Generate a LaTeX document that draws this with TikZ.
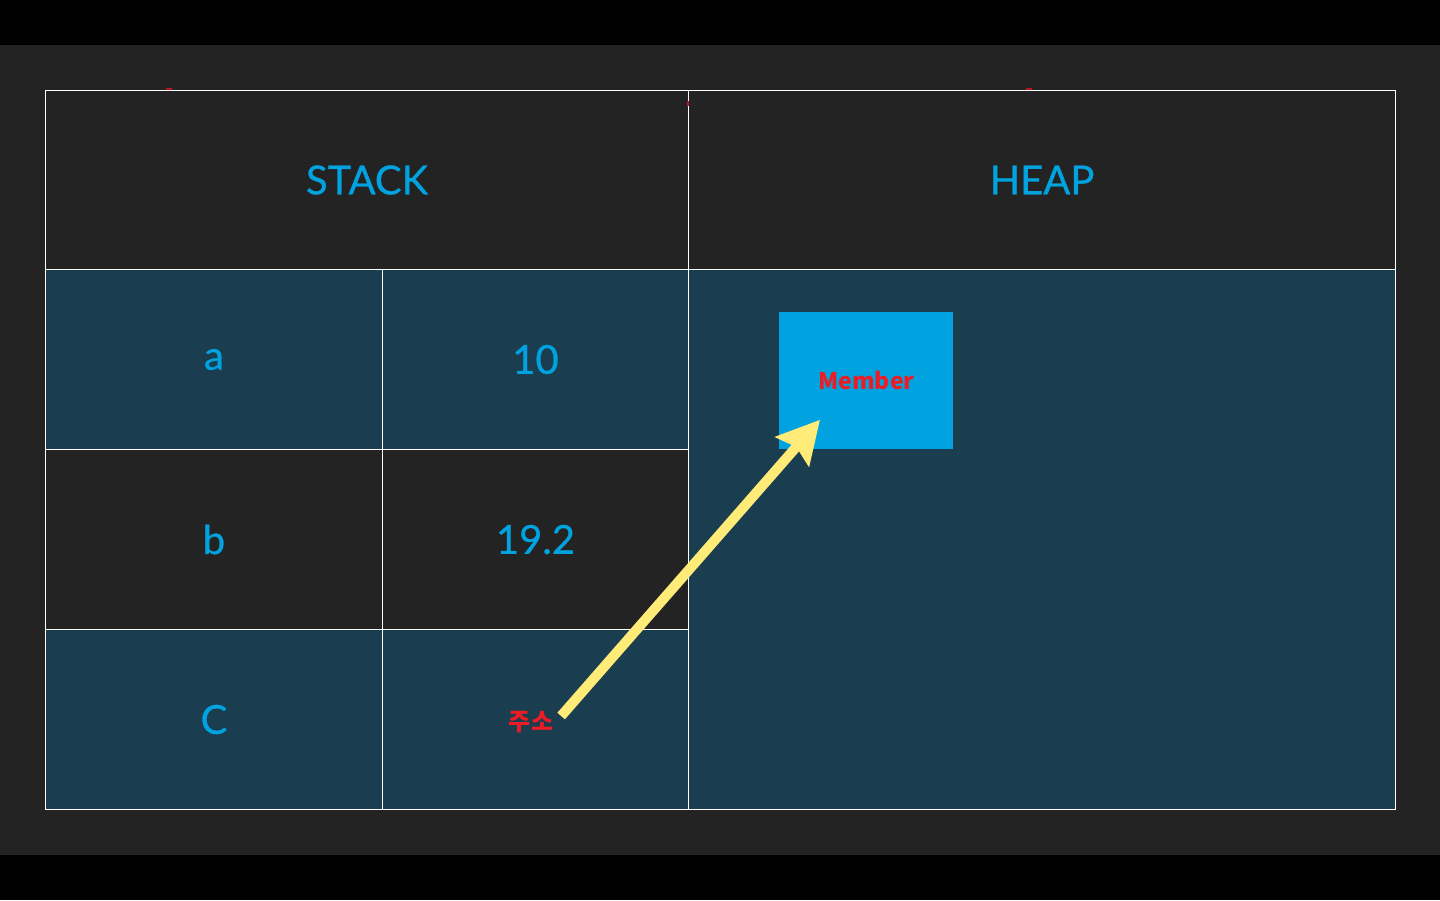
\documentclass[tikz,border=0pt]{standalone}
\usepackage{fontspec}
\setmainfont{Lato}[UprightFeatures={FakeBold=0.7}]
\newfontfamily\kr{Noto Sans CJK KR}
\usetikzlibrary{arrows.meta,calc}
\definecolor{bgdark}{RGB}{35,35,35}
\definecolor{teal}{RGB}{26,61,80}
\definecolor{skyblue}{RGB}{0,163,224}
\definecolor{memred}{RGB}{237,28,36}
\definecolor{ptryellow}{RGB}{255,236,120}
\tikzset{
  cell/.style={rectangle, draw=white, line width=0.5pt, anchor=north west,
               inner sep=0pt, text=skyblue, font=\fontsize{20}{24}\selectfont},
  keycell/.style={cell, minimum width=168.5pt, minimum height=90pt},
  valcell/.style={cell, minimum width=153pt, minimum height=90pt},
  objbox/.style={rectangle, fill=skyblue, anchor=north west, inner sep=0pt,
                 minimum width=87pt, minimum height=68.5pt,
                 text=memred, font=\kr\bfseries\fontsize{11.5}{14}\selectfont},
  ptr/.style={-{Stealth[length=21pt, width=22pt, inset=3pt]}, draw=ptryellow,
              line width=5pt}
}
\begin{document}
\begin{tikzpicture}[x=0.5pt, y=-0.5pt]
% ---- background ----
\fill[black] (0,0) rectangle (1440,900);
\fill[bgdark] (0,45) rectangle (1440,855);
\useasboundingbox (0,0) rectangle (1440,900);
% ---- header ----
\node[cell, fill=bgdark, minimum width=321.5pt, minimum height=89.5pt] (hstack) at (45,90) {STACK};
\node[cell, fill=bgdark, minimum width=353.5pt, minimum height=89.5pt] (hheap) at (688,90) {HEAP};
% ---- stack rows ----
\node[keycell, fill=teal] (ka) at (45,269) {a};
\node[valcell, fill=teal] (va) at (382,269) {10};
\node[keycell, fill=bgdark] (kb) at (45,449) {b};
\node[valcell, fill=bgdark] (vb) at (382,449) {19.2};
\node[keycell, fill=teal] (kc) at (45,629) {C};
\node[valcell, fill=teal] (vc) at (382,629) {};
% ---- heap ----
\node[cell, fill=teal, minimum width=353.5pt, minimum height=270pt] (heap) at (688,269) {};
\node[objbox] (member) at (779,312) {Member};
% ---- small marks on the top edge ----
\fill[memred!80!black] (166,88) rectangle (172,90);
\fill[memred!80!black] (687,101) rectangle (689,106);
\fill[memred!80!black] (1026,88) rectangle (1032,90);
% ---- reference ----
\node[text=memred, font=\kr\bfseries\fontsize{12}{14}\selectfont] (addr) at (531,722) {주소};
\coordinate (tip) at ($(member.south west)+(41,-30)$);
\draw[ptr] (addr.east) ++(1,-6) -- (tip);
\end{tikzpicture}
\end{document}
